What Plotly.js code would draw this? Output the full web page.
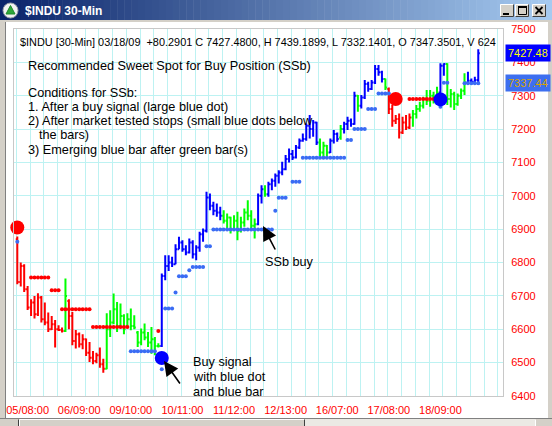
<!DOCTYPE html>
<html>
<head>
<meta charset="utf-8">
<script src="https://cdn.plot.ly/plotly-3.0.1.min.js"></script>
<style>
html, body { margin: 0; padding: 0; background: #ffffff; }
#chart { width: 552px; height: 426px; }
</style>
</head>
<body>
<div id="chart"></div>
<script>
// $INDU 30-minute bars, bar 0 = first bar on screen
const opens = [
  6870, 6742, 6790, 6720, 6665, 6680, 6645, 6695, 6630, 6620, 6600, 6615, 6600, 6598, 6595,
  6685, 6640, 6565, 6585, 6555, 6570, 6530, 6515, 6505, 6522, 6495, 6482, 6600, 6620, 6660,
  6610, 6640, 6610, 6630, 6610, 6590, 6560, 6590, 6575, 6560, 6570, 6550, 6550, 6760, 6790,
  6800, 6795, 6840, 6860, 6840, 6830, 6860, 6825, 6845, 6885, 6895, 6995, 6970, 6955, 6950,
  6940, 6925, 6935, 6900, 6925, 6895, 6920, 6950, 6940, 6910, 6915, 7000, 7020, 7005, 7035,
  7045, 7060, 7070, 7080, 7110, 7125, 7115, 7145, 7165, 7170, 7210, 7200, 7220, 7160, 7130,
  7150, 7130, 7165, 7185, 7175, 7200, 7215, 7225, 7215, 7300, 7270, 7295, 7335, 7320, 7340,
  7380, 7370, 7350, 7320, 7260, 7225, 7230, 7190, 7220, 7205, 7235, 7245, 7260, 7270, 7290,
  7285, 7300, 7290, 7310, 7390, 7395, 7290, 7305, 7275, 7300, 7315, 7340, 7345, 7342, 7347.3501
];
const highs = [
  6878, 6800, 6795, 6730, 6690, 6700, 6708, 6700, 6680, 6650, 6640, 6628, 6612, 6605, 6752,
  6690, 6652, 6598, 6590, 6585, 6572, 6562, 6535, 6530, 6545, 6512, 6648, 6657, 6707, 6682,
  6677, 6645, 6648, 6662, 6642, 6595, 6602, 6617, 6592, 6607, 6577, 6558, 6767, 6822, 6822,
  6817, 6855, 6877, 6867, 6852, 6872, 6867, 6852, 6892, 6902, 7012, 7007, 6982, 6977, 6967,
  6957, 6947, 6937, 6942, 6952, 6937, 6962, 6987, 6957, 6932, 7007, 7032, 7032, 7042, 7052,
  7067, 7077, 7102, 7122, 7142, 7137, 7152, 7172, 7187, 7217, 7242, 7227, 7222, 7172, 7162,
  7152, 7172, 7197, 7190, 7212, 7222, 7237, 7232, 7312, 7302, 7302, 7347, 7342, 7347, 7392,
  7392, 7375, 7352, 7325, 7272, 7242, 7247, 7237, 7242, 7247, 7257, 7272, 7282, 7297, 7317,
  7317, 7312, 7327, 7397, 7397, 7397, 7320, 7312, 7307, 7322, 7367, 7372, 7352, 7357, 7439.1899
];
const lows = [
  6735, 6728, 6712, 6658, 6640, 6632, 6640, 6620, 6612, 6592, 6598, 6545, 6595, 6590, 6592,
  6600, 6552, 6542, 6545, 6540, 6520, 6502, 6495, 6498, 6485, 6470, 6480, 6577, 6615, 6592,
  6605, 6585, 6605, 6597, 6600, 6547, 6552, 6567, 6547, 6527, 6522, 6545, 6547, 6747, 6775,
  6787, 6795, 6840, 6832, 6822, 6827, 6812, 6807, 6832, 6862, 6890, 6957, 6942, 6937, 6927,
  6917, 6902, 6887, 6897, 6867, 6890, 6907, 6927, 6897, 6872, 6912, 6977, 6997, 6997, 7017,
  7027, 7037, 7062, 7077, 7100, 7107, 7112, 7140, 7162, 7165, 7172, 7177, 7152, 7117, 7112,
  7117, 7128, 7157, 7162, 7168, 7187, 7197, 7207, 7213, 7252, 7262, 7290, 7312, 7317, 7335,
  7360, 7340, 7317, 7245, 7207, 7215, 7172, 7185, 7197, 7200, 7207, 7232, 7252, 7262, 7272,
  7267, 7277, 7287, 7290, 7360, 7272, 7265, 7257, 7270, 7290, 7302, 7337, 7337, 7335, 7332.1401
];
const closes = [
  6742, 6790, 6720, 6665, 6680, 6645, 6695, 6630, 6620, 6600, 6615, 6600, 6598, 6595, 6700,
  6640, 6565, 6585, 6555, 6570, 6530, 6515, 6505, 6522, 6495, 6482, 6600, 6620, 6660, 6610,
  6640, 6600, 6630, 6610, 6605, 6560, 6590, 6575, 6560, 6570, 6550, 6550, 6760, 6790, 6800,
  6795, 6840, 6860, 6840, 6830, 6860, 6825, 6845, 6885, 6895, 6995, 6970, 6955, 6950, 6940,
  6925, 6935, 6900, 6925, 6895, 6920, 6950, 6940, 6910, 6915, 7000, 7020, 7005, 7035, 7045,
  7060, 7070, 7080, 7110, 7125, 7115, 7145, 7165, 7170, 7210, 7200, 7220, 7160, 7130, 7150,
  7130, 7165, 7185, 7170, 7200, 7215, 7225, 7215, 7300, 7270, 7295, 7335, 7320, 7340, 7380,
  7370, 7350, 7325, 7260, 7225, 7230, 7190, 7220, 7205, 7235, 7245, 7260, 7270, 7290, 7285,
  7300, 7290, 7310, 7390, 7395, 7290, 7305, 7275, 7300, 7315, 7340, 7345, 7342, 7347, 7427.48
];
// bar colour: r = down trend, g = neutral, b = up trend
const trend = [
  "r","r","r","r","r","r","r","r","r","r","r","r","r","r","g",
  "r","r","r","r","r","r","r","r","r","r","r","g","g","g","g",
  "g","g","g","g","g","g","g","g","g","g","g","g","b","b","b",
  "b","b","b","b","b","b","b","b","b","b","b","b","b","b","b",
  "g","g","g","g","g","g","g","g","g","g","b","b","g","b","b",
  "b","b","b","b","b","b","b","b","b","b","b","b","b","g","g",
  "g","b","b","b","g","b","b","b","b","g","b","b","b","b","b",
  "b","b","g","r","r","r","r","r","r","r","g","g","g","g","g",
  "g","g","g","b","b","g","g","g","g","g","g","b","b","b","b"
];
// trailing stops (small dots), null where none is plotted
const blueStop = [
  6862, null, null, null, null, null, null, null, null, null, null, null, null, null, null,
  null, null, null, null, null, null, null, null, null, null, null, null, null, null, null,
  null, null, null, 6534, 6534, 6534, 6534, 6534, 6534, 6534, 6534, null, 6480, 6662, 6662,
  6662, 6710, 6759, 6759, 6759, 6777, 6787, 6787, 6787, 6787, 6849, 6849, 6899, 6899, 6899,
  6899, 6899, 6899, 6899, 6899, 6899, 6899, 6899, 6899, 6899, 6899, 6899, 6899, 6899, 6899,
  6955, 6994, 6994, 6994, null, 7042, 7042, 7042, 7114, 7114, 7114, 7114, 7114, 7114, 7114,
  7114, 7114, 7114, 7114, 7114, 7114, 7167, 7167, 7200, 7200, 7200, 7200, 7260, 7260, 7260,
  7307, 7307, 7307, 7307, null, null, null, null, null, null, null, null, null, null, null,
  null, null, null, 7267, 7339, 7339, null, null, null, null, 7337.44, 7337.44, 7337.44, 7337.44, 7337.44
];
const redStop = [
  null, null, null, null, 6755, 6755, 6755, 6755, 6755, 6755, 6717, 6717, 6717, 6660, 6660,
  6660, 6660, 6660, 6660, 6660, 6660, 6660, 6607, 6607, 6607, 6607, 6607, 6607, 6607, 6607,
  6607, 6607, 6607, null, null, null, null, null, null, null, null, 6595, null, null, null,
  null, null, null, null, null, null, null, null, null, null, null, null, null, null, null,
  null, null, null, null, null, null, null, null, null, null, null, null, null, null, null,
  null, null, null, null, null, null, null, null, null, null, null, null, null, null, null,
  null, null, null, null, null, null, null, null, null, null, null, null, null, null, null,
  null, null, null, null, null, null, null, null, null, 7290, 7290, 7290, 7290, 7290, 7290,
  7290, 7290, 7290, null, null, null, null, null, null, null, null, null, null, null, null
];
// signal dots (large)
const sellBar = [0, 110];
const sellLevel = [6905, 7290];
const buyBar = [42, 123];
const buyLevel = [6514, 7289];
// date labels on the time axis
const dateBars = [3, 18, 33, 48, 63, 78, 93, 108, 123];
const dateLabels = ["05/08:00", "06/09:00", "09/10:00", "10/11:00", "11/12:00",
                    "12/13:00", "16/07:00", "17/08:00", "18/09:00"];

const FONT = "Liberation Sans, Arial, sans-serif";
const W = 552, H = 426;
const L = 14, R = 503, T = 29, B = 396;          // plot frame in pixels
const px = x => (x - L) / (R - L);
const py = y => (B - y) / (B - T);
const N = closes.length;
const barIdx = closes.map((_, i) => i);
const xRange = [-0.96, 141.19];

function barTrace(code, color) {
  const sel = barIdx.filter(i => trend[i] === code);
  return {
    type: "ohlc",
    x: sel,
    open: sel.map(i => opens[i]),
    high: sel.map(i => highs[i]),
    low: sel.map(i => lows[i]),
    close: sel.map(i => closes[i]),
    increasing: { line: { color: color, width: 2 } },
    decreasing: { line: { color: color, width: 2 } },
    tickwidth: 0.45,
    hoverinfo: "none",
    showlegend: false
  };
}

const traces = [
  barTrace("r", "#ff0000"),
  barTrace("g", "#00ff00"),
  barTrace("b", "#0000ff"),
  { type: "scatter", mode: "markers", x: barIdx, y: redStop,
    marker: { color: "#ff0000", size: 4 }, hoverinfo: "none", showlegend: false },
  { type: "scatter", mode: "markers", x: barIdx, y: blueStop,
    marker: { color: "#3a6cf4", size: 4 }, hoverinfo: "none", showlegend: false },
  { type: "scatter", mode: "markers", x: sellBar, y: sellLevel, xaxis: "x2", cliponaxis: false,
    marker: { color: "#ff0000", size: 14 }, hoverinfo: "none", showlegend: false },
  { type: "scatter", mode: "markers", x: buyBar, y: buyLevel, xaxis: "x2", cliponaxis: false,
    marker: { color: "#0000ff", size: 14 }, hoverinfo: "none", showlegend: false }
];

// window chrome: title bar gradient, frame, caption buttons, scrollbar
const shapes = [];
const rectPx = (x0, y0, x1, y1, fill, line, lw) => ({
  type: "rect", xref: "paper", yref: "paper", layer: "above",
  x0: px(x0), x1: px(x1), y0: py(y1), y1: py(y0),
  fillcolor: fill, line: { color: line || fill, width: lw === undefined ? 0 : lw }
});
const pathPx = (pts, color, width, fill) => ({
  type: "path", xref: "paper", yref: "paper", layer: "above",
  path: pts.map((p, k) => (k ? "L" : "M") + px(p[0]) + "," + py(p[1])).join(" ") + (fill ? " Z" : ""),
  line: { color: color, width: width }, fillcolor: fill || "rgba(0,0,0,0)"
});
const c0 = [10, 36, 106], c1 = [166, 202, 240];
const slices = 80;
for (let k = 0; k < slices; k++) {
  const t = k / (slices - 1);
  const c = c0.map((v, j) => Math.round(v + (c1[j] - v) * t));
  shapes.push(rectPx(k * W / slices, 0, (k + 1) * W / slices + 0.5, 20, "rgb(" + c.join(",") + ")"));
}
shapes.push(rectPx(0, 20, W, 22, "#d4d0c8"));
shapes.push(rectPx(0, 20, 5, H, "#d4d0c8"));
shapes.push(pathPx([[5.5, 22], [5.5, 418]], "#808080", 1));
shapes.push(rectPx(548, 20, W, H, "#d4d0c8"));
// scrollbar
shapes.push(rectPx(0, 418, W, H, "#d4d0c8"));
shapes.push(pathPx([[0, 418.5], [W, 418.5]], "#808080", 1));
shapes.push(rectPx(305, 419, 535, H, "#ebe9e4"));
shapes.push(pathPx([[19.5, 426], [19.5, 419.5], [304.5, 419.5]], "#ffffff", 1));
shapes.push(pathPx([[304.5, 419.5], [304.5, 426]], "#404040", 1));
shapes.push(pathPx([[18.5, 419.5], [18.5, 426]], "#404040", 1));
shapes.push(pathPx([[535.5, 419.5], [535.5, 426]], "#ffffff", 1));
// icon
shapes.push({ type: "circle", xref: "paper", yref: "paper", layer: "above",
  x0: px(3), x1: px(18), y0: py(18), y1: py(3), fillcolor: "#f2f2f2", line: { color: "#9aa0a8", width: 1 } });
shapes.push(pathPx([[10.5, 5.5], [15, 14], [6, 14]], "#1f8a2a", 1, "#2fa83a"));
// caption buttons
[[500, 514], [515, 529], [532, 546]].forEach(b => {
  shapes.push(rectPx(b[0], 4, b[1], 17, "#d4d0c8"));
  shapes.push(pathPx([[b[0] + 0.5, 16.5], [b[0] + 0.5, 4.5], [b[1] - 0.5, 4.5]], "#ffffff", 1));
  shapes.push(pathPx([[b[0] + 0.5, 16.5], [b[1] - 0.5, 16.5], [b[1] - 0.5, 4.5]], "#404040", 1));
});
shapes.push(rectPx(503, 13, 509, 15, "#000000"));
shapes.push(rectPx(518.5, 6.5, 526.5, 14.5, "rgba(0,0,0,0)", "#000000", 1));
shapes.push(rectPx(518, 6, 527, 8, "#000000"));
shapes.push(pathPx([[535.5, 7], [542.5, 14]], "#000000", 1.8));
shapes.push(pathPx([[542.5, 7], [535.5, 14]], "#000000", 1.8));

const txt = (x, y, s, size, color, extra) => Object.assign({
  xref: "paper", yref: "paper", x: px(x), y: py(y), text: s, showarrow: false,
  xanchor: "left", yanchor: "middle",
  font: { family: FONT, size: size, color: color || "#000000" }
}, extra || {});

const last = N - 1;
const change = 80.2901;
const NOTE = 12.7;
const annotations = [
  txt(23, 11, "$INDU 30-Min", 12, "#ffffff", { font: { family: FONT, size: 12, color: "#ffffff", weight: "bold" } }),
  txt(18, 42, "$INDU [30-Min] 03/18/09  +" + change.toFixed(4) +
      " C " + closes[last].toFixed(4) + ", H " + highs[last].toFixed(4) +
      ", L " + lows[last].toFixed(4) + ", O " + opens[last].toFixed(4) + ", V 624", 10.9),
  txt(26, 66, "Recommended Sweet Spot for Buy Position (SSb)", NOTE),
  txt(26, 93, "Conditions for SSb:", NOTE),
  txt(26, 107, "1. After a buy signal (large blue dot)", NOTE),
  txt(26, 121, "2) After market tested stops (small blue dots below", NOTE),
  txt(37, 135, "the bars)", NOTE),
  txt(26, 150, "3) Emerging blue bar after green bar(s)", NOTE),
  txt(263, 262, "SSb buy", NOTE),
  txt(191, 362, "Buy signal", NOTE),
  txt(191, 377, "with blue dot", NOTE),
  txt(191, 392, "and blue bar", NOTE),
  { xref: "paper", yref: "paper", x: px(164), y: py(361), ax: 17, ay: 24, text: "",
    showarrow: true, arrowhead: 2, arrowsize: 1.8, arrowwidth: 1.6, arrowcolor: "#000000", standoff: 0 },
  { xref: "paper", yref: "paper", x: px(263), y: py(226), ax: 13, ay: 25, text: "",
    showarrow: true, arrowhead: 2, arrowsize: 1.8, arrowwidth: 1.6, arrowcolor: "#000000", standoff: 0 },
  { xref: "paper", yref: "y", x: px(505), y: closes[last], text: closes[last].toFixed(2),
    showarrow: false, xanchor: "left", yanchor: "middle", bgcolor: "#0000ff", borderpad: 2,
    font: { family: FONT, size: 11, color: "#ffff00" } },
  { xref: "paper", yref: "y", x: px(505), y: blueStop[last], text: blueStop[last].toFixed(2),
    showarrow: false, xanchor: "left", yanchor: "middle", bgcolor: "#3d6ff0", borderpad: 2,
    font: { family: FONT, size: 11, color: "#d9a400" } }
];

const layout = {
  width: W, height: H,
  margin: { l: L, r: W - R, t: T, b: H - B, pad: 0 },
  paper_bgcolor: "#ffffff",
  plot_bgcolor: "#ffffff",
  showlegend: false,
  dragmode: false,
  xaxis: {
    range: xRange, tickmode: "array", tickvals: dateBars, ticktext: dateLabels,
    showgrid: false, zeroline: false, ticks: "", ticklabelstandoff: 4,
    showline: true, mirror: true, linecolor: "#c8c8c8", linewidth: 1,
    tickfont: { family: FONT, size: 11, color: "#ff0000" },
    rangeslider: { visible: false }, fixedrange: true
  },
  xaxis2: {
    overlaying: "x", anchor: "y", side: "bottom", range: xRange,
    tickmode: "linear", tick0: -0.3, dtick: 4,
    showgrid: true, gridcolor: "#bdf2f2", gridwidth: 1,
    showticklabels: false, ticks: "", zeroline: false, showline: false, fixedrange: true
  },
  yaxis: {
    side: "right", range: [6400, 7500], tickmode: "linear", tick0: 6400, dtick: 100,
    showgrid: true, gridcolor: "#bdf2f2", gridwidth: 1, zeroline: false, ticks: "",
    ticklabelstandoff: 5, showline: true, mirror: true, linecolor: "#c8c8c8", linewidth: 1,
    tickfont: { family: FONT, size: 11, color: "#ff0000" }, fixedrange: true
  },
  shapes: shapes,
  annotations: annotations
};

Plotly.newPlot("chart", traces, layout, { staticPlot: true, displayModeBar: false });
</script>
</body>
</html>
